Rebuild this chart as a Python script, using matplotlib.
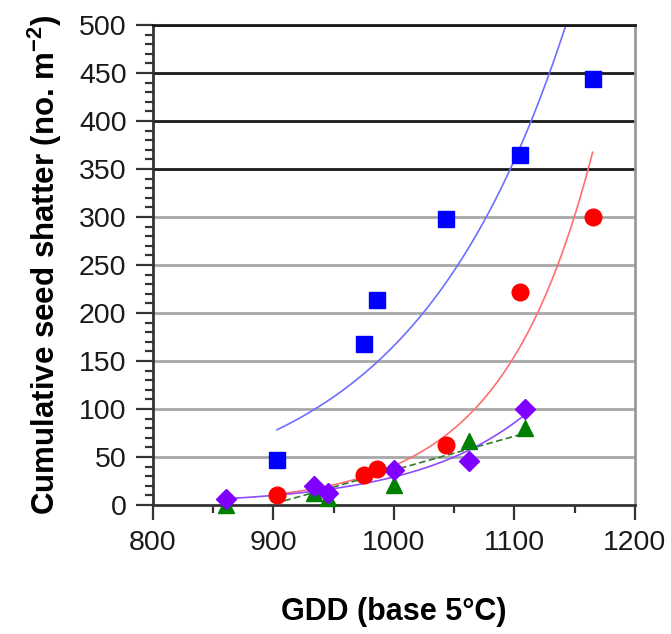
import numpy as np
import matplotlib
matplotlib.use("Agg")
import matplotlib.pyplot as plt
from matplotlib.ticker import MultipleLocator

plt.rcParams['font.family'] = ['Liberation Sans', 'DejaVu Sans']
plt.rcParams['mathtext.fontset'] = 'custom'
plt.rcParams['mathtext.rm'] = 'Liberation Sans'
plt.rcParams['mathtext.bf'] = 'Liberation Sans:bold'

# Données (GDD, graines tombées par m2)
gdd_a = [903, 975, 986, 1043, 1105, 1165]
blue_vals = [47, 168, 214, 298, 365, 444]
red_vals = [10, 31, 38, 63, 222, 300]

gdd_b = [861, 934, 945, 1000, 1062, 1109]
green_vals = [0, 12, 7, 21, 67, 80]
purple_vals = [6, 20, 12, 36, 46, 100]

y_ticks = [0, 50, 100, 150, 200, 250, 300, 350, 400, 450, 500]
x_ticks = [800, 900, 1000, 1100, 1200]


def exp_trend(x, y):
    # courbe de tendance exponentielle (moindres carrés sur ln y)
    x = np.asarray(x, float)
    y = np.asarray(y, float)
    keep = y > 0
    b, ln_a = np.polyfit(x[keep], np.log(y[keep]), 1)
    xs = np.linspace(x[keep].min(), x[keep].max(), 200)
    return xs, np.exp(ln_a) * np.exp(b * xs)


def lin_trend(x, y):
    slope, icpt = np.polyfit(x, y, 1)
    xs = np.linspace(min(x), max(x), 200)
    return xs, slope * xs + icpt


fig = plt.figure(figsize=(6.71, 6.34), dpi=100)
ax = fig.add_axes([0.228, 0.2035, 0.718, 0.757])

# lignes de tendance
xs, ys = exp_trend(gdd_a, blue_vals)
ax.plot(xs, ys, color='#6f6fff', lw=1.2, zorder=2)
xs, ys = exp_trend(gdd_a, red_vals)
ax.plot(xs, ys, color='#ff6f6f', lw=1.2, zorder=2)
xs, ys = lin_trend(gdd_b, green_vals)
ax.plot(xs, ys, color='#2e7d2e', lw=1.2, ls=(0, (4, 2)), zorder=2)
xs, ys = exp_trend(gdd_b, purple_vals)
ax.plot(xs, ys, color='#8a4dff', lw=1.2, zorder=2)

# points
ax.plot(gdd_b, green_vals, '^', color='#008000', ms=12, mec='#008000', ls='none', zorder=3, clip_on=False)
ax.plot(gdd_b, purple_vals, 'D', color='#8000ff', ms=10.5, mec='#8000ff', ls='none', zorder=4, clip_on=False)
ax.plot(gdd_a, red_vals, 'o', color='#ff0000', ms=12, mec='#ff0000', ls='none', zorder=5)
ax.plot(gdd_a, blue_vals, 's', color='#0000ff', ms=12, mec='#0000ff', ls='none', zorder=6)

ax.set_xlim(800, 1200)
ax.set_ylim(0, 500)
ax.set_xticks(x_ticks)
ax.set_yticks(y_ticks)
ax.xaxis.set_minor_locator(MultipleLocator(50))
ax.yaxis.set_minor_locator(MultipleLocator(10))

# grille horizontale : foncée en haut, grise en bas
for v in y_ticks[1:]:
    col = '#1a1a1a' if v >= 350 else '#a8a8a8'
    ax.axhline(v, color=col, lw=2, zorder=1)

ax.tick_params(axis='both', which='major', labelsize=20.5, colors='#333333',
               labelcolor='#1a1a1a', width=1.6, pad=7)
ax.tick_params(axis='y', which='major', length=12)
ax.tick_params(axis='x', which='major', length=11)
ax.tick_params(axis='both', which='minor', length=6, width=1.6, colors='#333333')

for side in ['left', 'bottom']:
    ax.spines[side].set_color('#333333')
    ax.spines[side].set_linewidth(2)
ax.spines['right'].set_color('#999999')
ax.spines['right'].set_linewidth(2)
ax.spines['top'].set_color('#1a1a1a')
ax.spines['top'].set_linewidth(2)

ax.set_xlabel('GDD (base 5°C)', fontsize=22, fontweight='bold', va='center')
ax.set_ylabel(r'Cumulative seed shatter (no. m$^{\mathbf{-2}}$)', fontsize=22.5,
              fontweight='bold', va='center')
ax.xaxis.set_label_coords(0.5, -0.223)
ax.yaxis.set_label_coords(-0.224, 0.5)

fig.savefig('out.png', dpi=100)
